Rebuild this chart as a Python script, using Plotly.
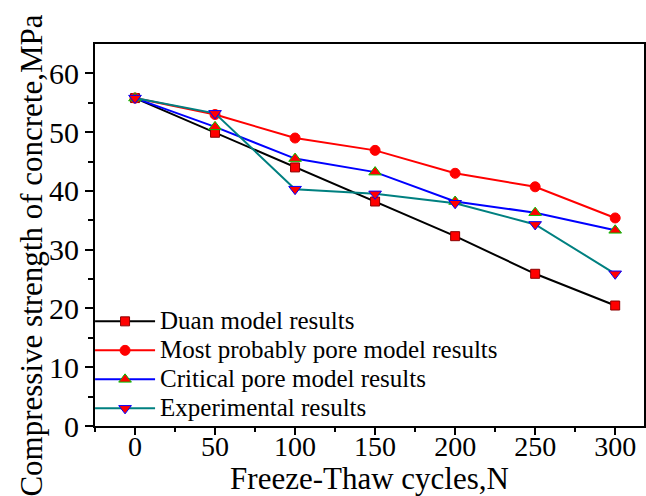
import plotly.graph_objects as go

cycles = [0, 50, 100, 150, 200, 250, 300]
duan = [55.8, 49.9, 44.0, 38.2, 32.3, 25.9, 20.5]
most_probable = [55.8, 53.0, 49.0, 46.9, 43.0, 40.7, 35.4]
critical = [55.8, 50.9, 45.5, 43.2, 38.2, 36.3, 33.3]
experimental = [55.8, 53.2, 40.3, 39.5, 37.9, 34.3, 25.9]

names = ["Duan model results", "Most probably pore model results",
         "Critical pore model results", "Experimental results"]

FONT = "Liberation Serif, serif"


def legend_name(s):
    return "<span style='font-size:25px'>" + s + "</span>"


fig = go.Figure()
fig.add_trace(go.Scatter(x=cycles, y=duan, name=legend_name(names[0]), mode="lines+markers",
                         line=dict(color="black", width=2),
                         marker=dict(symbol="square", size=9, color="#ff0000",
                                     line=dict(color="#8b0000", width=1))))
fig.add_trace(go.Scatter(x=cycles, y=most_probable, name=legend_name(names[1]), mode="lines+markers",
                         line=dict(color="#ff0000", width=2),
                         marker=dict(symbol="circle", size=10, color="#ff0000",
                                     line=dict(color="#ff0000", width=1))))
fig.add_trace(go.Scatter(x=cycles, y=critical, name=legend_name(names[2]), mode="lines+markers",
                         line=dict(color="#0000ff", width=2),
                         marker=dict(symbol="triangle-up", size=11, color="#ff0000",
                                     line=dict(color="#00c000", width=1))))
fig.add_trace(go.Scatter(x=cycles, y=experimental, name=legend_name(names[3]), mode="lines+markers",
                         line=dict(color="#008080", width=2),
                         marker=dict(symbol="triangle-down", size=11, color="#ff0000",
                                     line=dict(color="#0000ff", width=1))))

fig.update_layout(
    width=646, height=496,
    margin=dict(l=95, r=0, t=44, b=70),
    paper_bgcolor="white", plot_bgcolor="white",
    font=dict(family=FONT, color="black", size=28),
    showlegend=True,
    legend=dict(x=-0.009, y=0.325, xanchor="left", yanchor="top",
                bgcolor="rgba(0,0,0,0)", borderwidth=0,
                font=dict(family=FONT, size=20, color="black"),
                itemwidth=60, tracegroupgap=0),
    xaxis=dict(range=[-25, 318], showgrid=False, zeroline=False,
               showline=True, linecolor="black", linewidth=2, mirror=True,
               tickmode="array", tickvals=[0, 50, 100, 150, 200, 250, 300],
               ticks="outside", ticklen=7, tickwidth=2, tickcolor="black",
               ticklabelstandoff=-13,
               tickfont=dict(family=FONT, size=28),
               minor=dict(tickvals=[-25, 25, 75, 125, 175, 225, 275], ticks="outside",
                          ticklen=4, tickwidth=2, tickcolor="black"),
               title=dict(text="Freeze-Thaw cycles,N", font=dict(family=FONT, size=31),
                          standoff=2)),
    yaxis=dict(range=[0, 65], showgrid=False, zeroline=False,
               showline=True, linecolor="black", linewidth=2, mirror=True,
               tickmode="array", tickvals=[0, 10, 20, 30, 40, 50, 60],
               ticks="outside", ticklen=8, tickwidth=2, tickcolor="black",
               tickfont=dict(family=FONT, size=30),
               minor=dict(tickvals=[5, 15, 25, 35, 45, 55], ticks="outside",
                          ticklen=5, tickwidth=2, tickcolor="black")),
    annotations=[dict(text="Compressive strength of concrete,MPa", textangle=-90,
                      xref="paper", yref="paper", x=-0.116, y=1.083,
                      xanchor="center", yanchor="top", showarrow=False,
                      font=dict(family=FONT, size=31, color="black"))],
)

fig.write_html("out.html")
